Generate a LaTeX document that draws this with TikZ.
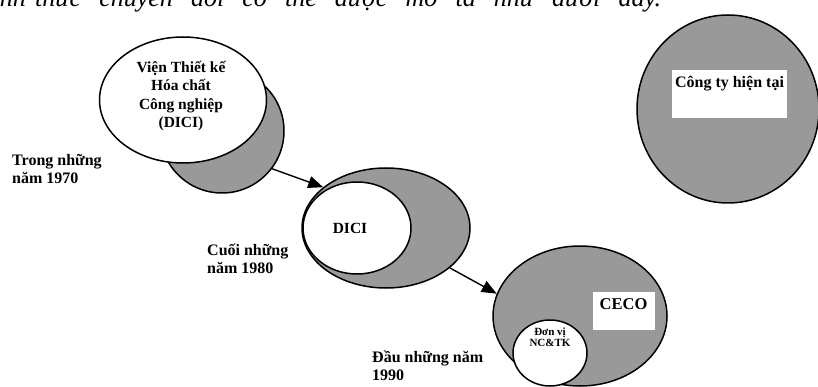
\documentclass[tikz,border=0pt]{standalone}
\usepackage{fontspec}
\setmainfont{Liberation Serif}
\usetikzlibrary{shapes.geometric,arrows.meta}
\definecolor{shade}{HTML}{999999}
\tikzset{
  grayell/.style={ellipse,draw=black,line width=1.5pt,fill=shade,inner sep=0pt},
  whiteell/.style={ellipse,draw=black,line width=1.5pt,fill=white,inner sep=0pt},
  whitebox/.style={rectangle,fill=white,inner sep=0pt},
  lbl/.style={font=\bfseries\fontsize{16}{18}\selectfont,align=left,anchor=north west,inner sep=0pt},
  txt/.style={font=\bfseries\fontsize{15.5}{18.3}\selectfont,align=center,inner sep=0pt},
  flow/.style={line width=1.4pt,-{Triangle[length=15pt,width=12pt]}}
}
\begin{document}
\begin{tikzpicture}[x=1pt,y=-1pt]
\useasboundingbox (0,0) rectangle (818,387);
\clip (0,0) rectangle (818,387);
% cut-off line of text at top
\node[anchor=base east,inner sep=0pt,font=\itshape\fontsize{26}{30}\selectfont] (intro0) at (26,6.5) {Hình};
\node[anchor=base west,inner sep=0pt,font=\itshape\fontsize{26}{30}\selectfont] (intro) at (35,6.5)
  {\makebox[626pt][s]{thức chuyển đổi có thể được mô tả như dưới đây.}};
% stage 1
\node[grayell,minimum width=124pt,minimum height=124pt] (g1) at (222,131) {};
\node[whiteell,minimum width=167pt,minimum height=126pt] (w1) at (183,100) {};
\node[txt] (t1) at (181,96) {Viện Thiết kế\\Hóa chất\\Công nghiệp\\(DICI)};
\node[lbl] (l1) at (12,154) {Trong những\\năm 1970};
% stage 2
\node[grayell,minimum width=168pt,minimum height=120pt] (g2) at (386,228) {};
\node[whiteell,minimum width=108pt,minimum height=92pt] (w2) at (357,228) {};
\node[txt] (t2) at (350,228) {DICI};
\node[lbl] (l2) at (207,244) {Cuối những\\năm 1980};
% stage 3
\node[grayell,minimum width=174pt,minimum height=140pt] (g3) at (580,316) {};
\node[whiteell,minimum width=74pt,minimum height=66pt] (w3) at (550,353) {};
\node[txt,font=\bfseries\fontsize{11}{11.5}\selectfont] (t3) at (550,337) {Đơn vị\\NC\&TK};
\node[whitebox,minimum width=62pt,minimum height=38pt] (b3) at (624,311) {};
\node[txt,font=\bfseries\fontsize{16.5}{18}\selectfont] (c3) at (623.5,304) {CECO};
\node[lbl] (l3) at (372,351) {Đầu những năm\\1990};
% today
\node[grayell,minimum width=182pt,minimum height=188pt] (g4) at (728,109) {};
\node[whitebox,minimum width=115pt,minimum height=48pt] (b4) at (729.5,94) {};
\node[txt,font=\bfseries\fontsize{16}{18}\selectfont] (c4) at (729.5,83.5) {Công ty hiện tại};
% arrows
\draw[flow] (g1.-37) -- (g2.147);
\draw[flow] (g2.-32) -- (g3.165);
\end{tikzpicture}
\end{document}
